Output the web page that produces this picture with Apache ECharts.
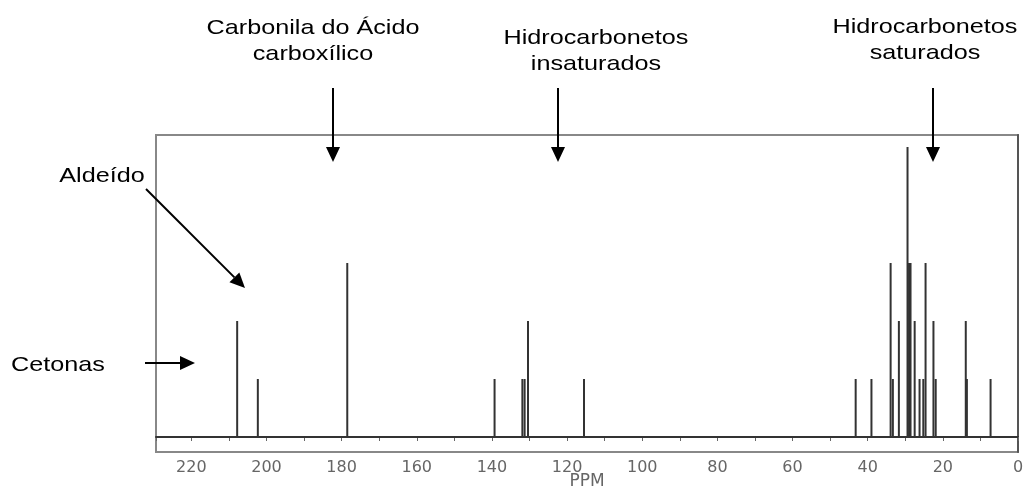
<!DOCTYPE html>
<html>
<head>
<meta charset="utf-8">
<script src="https://cdn.jsdelivr.net/npm/echarts@6/dist/echarts.min.js"></script>
<style>
  html, body { margin: 0; padding: 0; background: #fff; }
  #main { width: 1024px; height: 494px; }
</style>
</head>
<body>
<div id="main"></div>
<script>
// chemical shifts (ppm) and relative peak heights
var shifts = [207.8, 202.3, 178.5,
  139.3, 131.9, 131.3, 130.4, 115.5,
  43.2, 39.0, 33.9, 33.3, 31.7, 29.4, 29.0, 28.6, 27.5, 26.2, 25.2, 24.6,
  22.5, 21.9, 13.9, 13.6, 7.3];
var heights = [2, 1, 3,
  1, 1, 1, 2, 1,
  1, 1, 3, 1, 2, 5, 3, 3, 2, 1, 1, 3,
  2, 1, 2, 1, 1];
var tickLabels = [220, 200, 180, 160, 140, 120, 100, 80, 60, 40, 20, 0];

var peaks = shifts.map(function (s, i) { return [s, heights[i]]; });

var font = '21px "Liberation Sans", Arial, sans-serif';

function label(x, y, text) {
  return {
    type: 'text', x: x, y: y, scaleX: 1.2, silent: true,
    style: { text: text, font: font, fill: '#000', align: 'center',
      verticalAlign: 'middle', lineHeight: 26 }
  };
}
function arrow(x1, y1, x2, y2) {
  var dx = x2 - x1, dy = y2 - y1, len = Math.sqrt(dx * dx + dy * dy);
  var ux = dx / len, uy = dy / len, hl = 15, hw = 7;
  var bx = x2 - ux * hl, by = y2 - uy * hl;
  return [
    { type: 'line', silent: true, shape: { x1: x1, y1: y1, x2: bx, y2: by },
      style: { stroke: '#000', lineWidth: 2 } },
    { type: 'polygon', silent: true,
      shape: { points: [[x2, y2], [bx - uy * hw, by + ux * hw], [bx + uy * hw, by - ux * hw]] },
      style: { fill: '#000' } }
  ];
}

var chartDom = document.getElementById('main');
var myChart = echarts.init(chartDom);

var graphics = [
  label(313, 41, 'Carbonila do Ácido\ncarboxílico'),
  label(596, 51, 'Hidrocarbonetos\ninsaturados'),
  label(925, 40, 'Hidrocarbonetos\nsaturados'),
  label(102, 176, 'Aldeído'),
  label(58, 365, 'Cetonas')
].concat(arrow(333, 88, 333, 162))
 .concat(arrow(558, 88, 558, 162))
 .concat(arrow(933, 88, 933, 162))
 .concat(arrow(146, 189, 245, 288))
 .concat(arrow(145, 363, 195, 363));

myChart.setOption({
  backgroundColor: '#fff',
  animation: false,
  grid: {
    left: 156, right: 6, top: 135, bottom: 42,
    outerBoundsMode: 'none',
    containLabel: false,
    show: true, borderColor: '#888', borderWidth: 2
  },
  xAxis: {
    type: 'value',
    inverse: true,
    min: 0,
    max: 229.4,
    interval: 10,
    name: 'PPM',
    nameLocation: 'middle',
    nameGap: 21,
    nameMoveOverlap: false,
    nameTextStyle: { color: '#666', fontSize: 17, fontFamily: 'DejaVu Sans' },
    axisLine: { lineStyle: { color: '#333', width: 2 } },
    axisTick: { length: 4, lineStyle: { color: '#666' } },
    axisLabel: {
      margin: 8,
      color: '#666',
      fontSize: 16,
      fontFamily: 'DejaVu Sans',
      formatter: function (v) {
        return tickLabels.indexOf(Math.round(v)) >= 0 && Math.abs(v - Math.round(v)) < 1e-6 ? String(Math.round(v)) : '';
      }
    },
    splitLine: { show: false }
  },
  yAxis: {
    type: 'value',
    min: -0.2586,
    max: 5.207,
    axisLine: { show: true, lineStyle: { color: '#555', width: 2 } },
    axisTick: { show: false },
    axisLabel: { show: false },
    splitLine: { show: false }
  },
  series: [
    {
      type: 'bar',
      data: peaks,
      barWidth: 2,
      barGap: '-100%',
      itemStyle: { color: '#333' },
      markLine: {
        silent: true,
        symbol: 'none',
        label: { show: false },
        lineStyle: { color: '#333', width: 2, type: 'solid' },
        data: [{ yAxis: 0 }]
      }
    }
  ],
  graphic: graphics
});

window.addEventListener('resize', myChart.resize);
</script>
</body>
</html>
